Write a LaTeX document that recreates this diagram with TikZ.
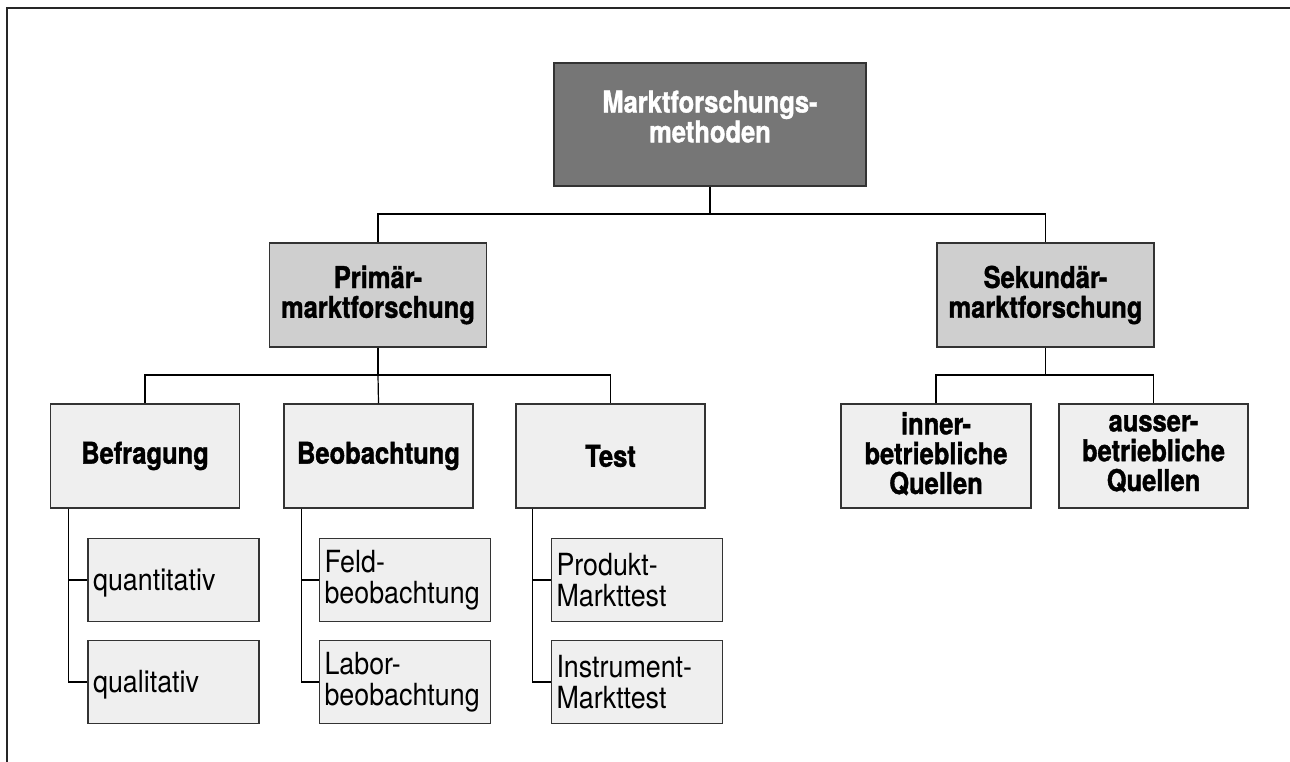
\documentclass[tikz,border=0pt]{standalone}
\usepackage{fontspec}
\setmainfont{TeX Gyre Heros}[FakeStretch=0.88]
\newfontfamily\condbold{TeX Gyre Heros}[FakeStretch=0.85, BoldFeatures={FakeBold=1.2}]
\definecolor{darkbox}{HTML}{767676}
\definecolor{midbox}{HTML}{CFCFCF}
\definecolor{lightbox}{HTML}{EFEFEF}
\definecolor{edge}{HTML}{333333}
% invisible struts that pad a line below (depth) or above (height)
\newcommand\padbelow[1]{\rule[-#1]{0pt}{#1}}
\newcommand\padabove[1]{\rule{0pt}{#1}}
\tikzset{
  box/.style={draw=edge, line width=1.3pt, inner sep=4pt, align=center,
    font=\condbold\bfseries\fontsize{30}{29.8}\selectfont},
  topbox/.style={box, fill=darkbox, text=white, minimum width=312pt, minimum height=123pt},
  midboxst/.style={box, fill=midbox, minimum width=217pt, minimum height=104pt},
  catbox/.style={box, fill=lightbox, minimum width=189pt, minimum height=104pt},
  leafbox/.style={draw=edge, line width=1.3pt, fill=lightbox, minimum width=171pt,
    minimum height=83pt, text width=161pt, align=left, inner sep=5pt,
    font=\fontsize{30.5}{30.6}\selectfont},
  link/.style={draw=black, line width=1.2pt}
}
\begin{document}
\begin{tikzpicture}[x=1pt, y=-1pt]
\useasboundingbox (0,0) rectangle (1290,762);
% outer frame (top and left edges)
\draw[line width=1.8pt, draw=black!85] (7,762) -- (7,8) -- (1290,8);

% root
\node[topbox] (root) at (710,124.5) {Marktforschungs-\\methoden\padbelow{16pt}};

% second level
\node[midboxst] (prim) at (378,295) {Primär-\\marktforschung\padbelow{6pt}};
\node[midboxst] (sek) at (1045.5,295) {Sekundär-\\marktforschung\padbelow{6pt}};

% primary research methods
\node[catbox] (befr) at (145,456) {Befragung};
\node[catbox] (beob) at (378.5,456) {Beobachtung};
\node[catbox] (test) at (610.5,456) {Test};

% secondary research sources
\node[catbox, minimum width=190pt] (inner) at (936,456) {inner-\\betriebliche\\Quellen\padbelow{6pt}};
\node[catbox] (ausser) at (1153.5,456) {ausser-\\betriebliche\\Quellen\padbelow{6pt}};

% leaves
\node[leafbox] (quant) at (173.5,580) {\padabove{28pt}quantitativ};
\node[leafbox] (qual) at (173.5,682) {\padabove{28pt}qualitativ};
\node[leafbox] (feld) at (405,580) {Feld-\\beobachtung};
\node[leafbox] (labor) at (405,682) {Labor-\\beobachtung};
\node[leafbox] (prod) at (637,580) {Produkt-\\Markttest};
\node[leafbox] (instr) at (637,682) {Instrument-\\Markttest};

% connector junctions
\coordinate (busA) at (710,214);
\coordinate (busB) at (378,375);
\coordinate (busC) at (1045.5,375);
\coordinate (trA) at ([xshift=18.5pt]befr.south west);
\coordinate (trB) at ([xshift=18pt]beob.south west);
\coordinate (trC) at ([xshift=17pt]test.south west);

\draw[link] (root.south) -- (busA) -| (prim.north);
\draw[link] (busA) -| (sek.north);

\draw[link] (prim.south) -- (busB) -| (befr.north);
\draw[link] (busB) -| (test.north);
\draw[link] (busB) -- (beob.north);

\draw[link] (sek.south) -- (busC) -| (inner.north);
\draw[link] (busC) -| (ausser.north);

\draw[link] (trA) |- (quant.west);
\draw[link] (trA) |- (qual.west);
\draw[link] (trB) |- (feld.west);
\draw[link] (trB) |- (labor.west);
\draw[link] (trC) |- (prod.west);
\draw[link] (trC) |- (instr.west);
\end{tikzpicture}
\end{document}
